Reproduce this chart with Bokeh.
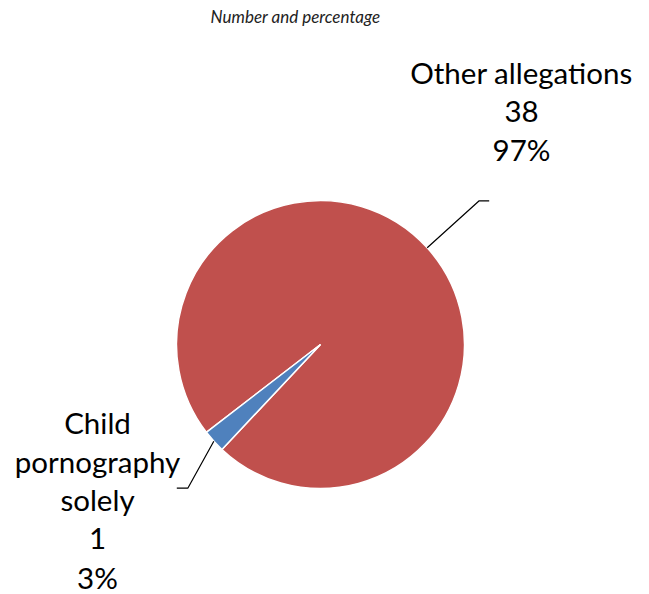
import math
from bokeh.plotting import figure
from bokeh.models import Range1d
from bokeh.core.properties import value
from bokeh.embed import file_html
from bokeh.resources import INLINE

# ---- data ----
categories = ["Other allegations", "Child pornography solely"]
label_lines = [["Other allegations"], ["Child", "pornography", "solely"]]
counts = [38, 1]
percents = ["97%", "3%"]
colors = ["#C0504D", "#4F81BD"]
title = "Number and percentage"

# ---- layout (pixel-like data units) ----
W, H = 649, 594
cx, cy, r = 320, 250, 144
start_deg = 226.8

p = figure(width=W, height=H, output_backend="svg", toolbar_location=None,
           x_range=Range1d(0, W), y_range=Range1d(0, H), min_border=0)
p.axis.visible = False
p.grid.visible = False
p.outline_line_color = None
p.background_fill_color = "white"

total = sum(counts)
angles = []
a = math.radians(start_deg)
for c in counts:
    b = a + c / total * 2 * math.pi
    angles.append((a, b))
    a = b

for (a0, a1), col in zip(angles, colors):
    p.wedge(x=cx, y=cy, radius=r, start_angle=a0, end_angle=a1,
            fill_color=col, line_color="white", line_width=1.5)

# leader lines and labels
font = value("Lato")
fs = "29.5px"
lh = 38.7
label_pos = [
    dict(x=521, y0=522, elbow=(52, 47), tail=10),
    dict(x=97, y0=172, elbow=(-26, -47), tail=-11),
]
for i, ((a0, a1), pos) in enumerate(zip(angles, label_pos)):
    mid = (a0 + a1) / 2
    sx = cx + r * math.cos(mid)
    sy = cy + r * math.sin(mid)
    ex = sx + pos["elbow"][0]
    ey = sy + pos["elbow"][1]
    p.line(x=[sx, ex, ex + pos["tail"]], y=[sy, ey, ey], line_color="black", line_width=1.2)
    lines = label_lines[i] + [str(counts[i]), percents[i]]
    for j, t in enumerate(lines):
        p.text(x=[pos["x"]], y=[pos["y0"] - j * lh], text=[t], text_font=font,
               text_font_size=fs, text_align="center", text_baseline="alphabetic",
               text_color="black")

p.text(x=[295], y=[578], text=[title], text_font=font, text_font_size="17px",
       text_font_style="italic", text_align="center", text_baseline="alphabetic",
       text_color="#222222")

open("out.html", "w").write(file_html(p, INLINE))
